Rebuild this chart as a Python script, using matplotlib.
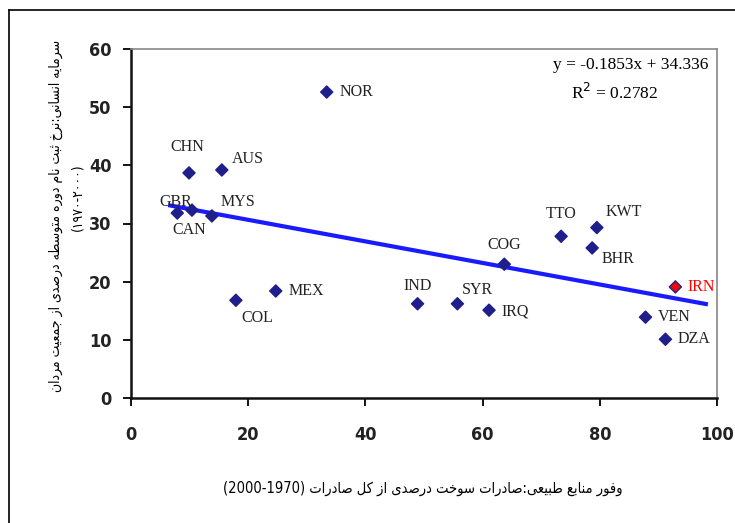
import matplotlib
matplotlib.use("Agg")
import matplotlib.pyplot as plt
from matplotlib.lines import Line2D
import numpy as np

# data
countries = ["NOR", "CHN", "AUS", "GBR", "CAN", "MYS", "COL", "MEX", "IND", "SYR",
             "IRQ", "COG", "TTO", "KWT", "BHR", "IRN", "VEN", "DZA"]
fuel_exports = [33.4, 9.9, 15.5, 7.9, 10.4, 13.8, 17.9, 24.7, 48.9, 55.7,
                61.1, 63.7, 73.4, 79.5, 78.7, 92.9, 87.8, 91.2]
enrolment = [52.6, 38.7, 39.2, 31.8, 32.3, 31.3, 16.8, 18.4, 16.2, 16.2,
             15.1, 23.0, 27.8, 29.3, 25.8, 19.1, 13.9, 10.1]
slope, intercept, r2 = -0.1853, 34.336, 0.2782
trend_range = [6.7, 98.1]
x_ticks = [0, 20, 40, 60, 80, 100]
y_ticks = [0, 10, 20, 30, 40, 50, 60]

xlabel_txt = "وفور منابع طبیعی:صادرات سوخت درصدی از کل صادرات"
xlabel_years = "(2000-1970)"
ylabel_txt = "سرمایه انسانی:نرخ ثبت نام دوره متوسطه درصدی از جمعیت مردان"
ylabel_years = "(۱۹۷۰-۲۰۰۰)"

# label offsets in points (dx, dy, ha)
offsets = {
    "NOR": (9, 0, "left"), "CHN": (-1, 19, "center"), "AUS": (7, 8, "left"),
    "GBR": (-1, 8, "center"), "CAN": (-2, -14, "center"), "MYS": (6, 10, "left"),
    "COL": (4, -13, "left"), "MEX": (9, 0, "left"), "IND": (0, 13, "center"),
    "SYR": (3, 10, "left"), "IRQ": (9, -1, "left"), "COG": (0, 14, "center"),
    "TTO": (0, 16, "center"), "KWT": (6, 11, "left"), "BHR": (7, -8, "left"),
    "IRN": (9, 0, "left"), "VEN": (9, 0, "left"), "DZA": (9, 0, "left"),
}

# small contextual shaping for persian text (matplotlib has no shaping)
FORMS = {
    "ا": ("ﺍ", "ﺎ", None, None), "ب": ("ﺏ", "ﺐ", "ﺑ", "ﺒ"),
    "ت": ("ﺕ", "ﺖ", "ﺗ", "ﺘ"), "ث": ("ﺙ", "ﺚ", "ﺛ", "ﺜ"),
    "ج": ("ﺝ", "ﺞ", "ﺟ", "ﺠ"), "خ": ("ﺥ", "ﺦ", "ﺧ", "ﺨ"),
    "د": ("ﺩ", "ﺪ", None, None), "ر": ("ﺭ", "ﺮ", None, None),
    "ز": ("ﺯ", "ﺰ", None, None), "س": ("ﺱ", "ﺲ", "ﺳ", "ﺴ"),
    "ص": ("ﺹ", "ﺺ", "ﺻ", "ﺼ"), "ط": ("ﻁ", "ﻂ", "ﻃ", "ﻄ"),
    "ع": ("ﻉ", "ﻊ", "ﻋ", "ﻌ"), "ف": ("ﻑ", "ﻒ", "ﻓ", "ﻔ"),
    "ک": ("ﮎ", "ﮏ", "ﮐ", "ﮑ"), "ل": ("ﻝ", "ﻞ", "ﻟ", "ﻠ"),
    "م": ("ﻡ", "ﻢ", "ﻣ", "ﻤ"), "ن": ("ﻥ", "ﻦ", "ﻧ", "ﻨ"),
    "ه": ("ﻩ", "ﻪ", "ﻫ", "ﻬ"), "و": ("ﻭ", "ﻮ", None, None),
    "ی": ("ﯼ", "ﯽ", "ﯾ", "ﯿ"),
}


def shape_fa(s):
    out = []
    for i, ch in enumerate(s):
        if ch not in FORMS:
            out.append(ch)
            continue
        iso, fin, ini, med = FORMS[ch]
        prev = s[i - 1] if i > 0 else ""
        nxt = s[i + 1] if i + 1 < len(s) else ""
        join_prev = prev in FORMS and FORMS[prev][2] is not None
        join_next = nxt in FORMS and ini is not None
        if join_prev and join_next:
            out.append(med)
        elif join_prev:
            out.append(fin)
        elif join_next:
            out.append(ini)
        else:
            out.append(iso)
    return "".join(out)[::-1]


plt.rcParams["font.family"] = ["DejaVu Sans"]
fig = plt.figure(figsize=(7.35, 5.23), dpi=100)
ax = fig.add_axes([131 / 735, 1 - 398 / 523, (717 - 131) / 735, (398 - 49) / 523])

# outer frame of the chart
fig.add_artist(Line2D([9 / 735, 9 / 735], [0, 1 - 10 / 523], color="black", lw=1.2))
fig.add_artist(Line2D([9 / 735, 1], [1 - 10 / 523, 1 - 10 / 523], color="black", lw=1.2))

navy = "#1f1f8c"
colors = [navy] * len(countries)
colors[countries.index("IRN")] = "red"
ax.scatter(fuel_exports, enrolment, marker="D", s=38, c=colors,
           edgecolors=navy, linewidths=1.0, zorder=3)

tx = np.array(trend_range)
ax.plot(tx, slope * tx + intercept, color="#1a1aff", lw=3, zorder=2)

for name, x, y in zip(countries, fuel_exports, enrolment):
    dx, dy, ha = offsets[name]
    ax.annotate(name, (x, y), xytext=(dx, dy), textcoords="offset points",
                ha=ha, va="center", fontsize=11.5, family="Liberation Serif",
                color="red" if name == "IRN" else "#222222")

ax.text(0.985, 0.955, "y = -0.1853x + 34.336", transform=ax.transAxes,
        ha="right", va="center", fontsize=12.5, family="Liberation Serif")
ax.text(0.90, 0.875, "R$^2$ = %.4f" % r2, transform=ax.transAxes,
        ha="right", va="center", fontsize=12.5, family="Liberation Serif")

ax.set_xlim(0, 100)
ax.set_ylim(0, 60)
ax.set_xticks(x_ticks)
ax.set_yticks(y_ticks)
for lab in ax.get_xticklabels() + ax.get_yticklabels():
    lab.set_family("DejaVu Sans")
    lab.set_stretch("condensed")
    lab.set_fontsize(13)
    lab.set_fontweight("bold")
    lab.set_color("#222222")
ax.tick_params(axis="x", direction="out", length=6, width=1.3, pad=14)
ax.tick_params(axis="y", direction="out", length=6, width=1.3, pad=8)
for side in ["left", "bottom"]:
    ax.spines[side].set_linewidth(1.8)
    ax.spines[side].set_color("#111111")
for side in ["top", "right"]:
    ax.spines[side].set_linewidth(1.2)
    ax.spines[side].set_color("#888888")

fig.text(423 / 735, 1 - 488 / 523, xlabel_years + " " + shape_fa(xlabel_txt),
         ha="center", va="center", fontsize=10.5, stretch="condensed")
fig.text(56 / 735, 1 - 216 / 523, shape_fa(ylabel_txt), rotation=90,
         ha="center", va="center", fontsize=10, stretch="condensed")
fig.text(77 / 735, 1 - 197 / 523, ylabel_years, rotation=90,
         ha="center", va="center", fontsize=10, stretch="condensed")

fig.savefig("out.png", dpi=100)
